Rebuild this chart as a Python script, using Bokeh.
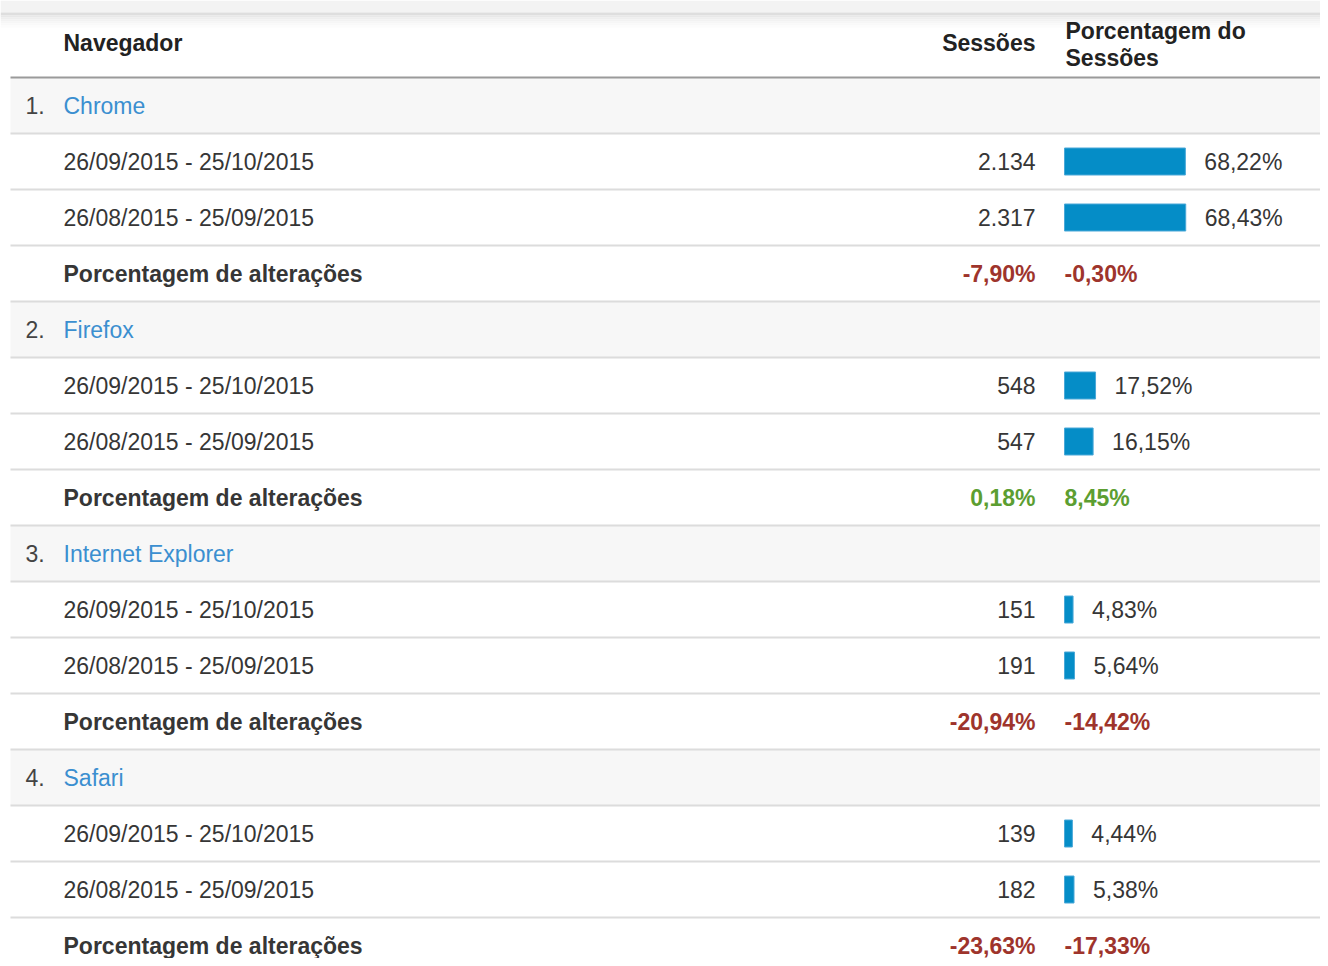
from bokeh.plotting import figure
from bokeh.models import Range1d, ColumnDataSource
from bokeh.core.properties import value
from bokeh.embed import file_html
from bokeh.resources import INLINE

# ---------------- data ----------------
browsers = ["Chrome", "Firefox", "Internet Explorer", "Safari"]
periods = ["26/09/2015 - 25/10/2015", "26/08/2015 - 25/09/2015"]
sessions_cur = [2134, 548, 151, 139]
sessions_prev = [2317, 547, 191, 182]
share_cur = [68.22, 17.52, 4.83, 4.44]
share_prev = [68.43, 16.15, 5.64, 5.38]
sessions_change = [-7.90, 0.18, -20.94, -23.63]
share_change = [-0.30, 8.45, -14.42, -17.33]
header_labels = ["Navegador", "Sessões", "Porcentagem do", "Sessões"]
change_label = "Porcentagem de alterações"

# ---------------- helpers ----------------
def fmt_int(n):
    return f"{n:,}".replace(",", ".")

def fmt_pct(v):
    return f"{v:.2f}".replace(".", ",") + "%"

FONT = value("Liberation Sans")
FS = "23px"
TXT = "#363636"
LINK = "#3b8fd0"
NEG = "#9e342c"
POS = "#5c9e31"
BAR = "#058dc7"

W, H = 1320, 958
ROW_PX = 56.0
ROW0 = 105.0  # pixel centre of first row

def ry(px):  # pixel -> row units
    return (px - ROW0) / ROW_PX

PX_PER_PCT = 121.0 / 68.3
BAR_X0 = 1064.0

p = figure(width=W, height=H,
           x_range=Range1d(0, W),
           y_range=Range1d(ry(H), ry(0)),
           output_backend="svg", toolbar_location=None,
           x_axis_location=None, y_axis_location=None,
           min_border=0)
p.outline_line_color = None
p.xgrid.visible = False
p.ygrid.visible = False
p.background_fill_color = "white"
p.border_fill_color = "white"
p.extra_x_ranges = {"pct": Range1d(-BAR_X0 / PX_PER_PCT, (W - BAR_X0) / PX_PER_PCT)}

# ---- top shadow band ----
p.quad(left=0, right=W, top=ry(0), bottom=ry(12), fill_color="#f3f3f3", line_color=None)
p.quad(left=0, right=W, top=ry(12), bottom=ry(15), fill_color="#dedede", line_color=None)
shades = ["#e8e8e8", "#eeeeee", "#f2f2f2", "#f6f6f6", "#f9f9f9", "#fcfcfc"]
for k, c in enumerate(shades):
    p.quad(left=0, right=W, top=ry(15 + 2 * k), bottom=ry(17 + 2 * k), fill_color=c, line_color=None)

# ---------------- build rows ----------------
n_rows = len(browsers) * 4
group_rows = [4 * g for g in range(len(browsers))]

# group header backgrounds
p.quad(left=10, right=W, top=[r - 0.5 for r in group_rows], bottom=[r + 0.5 for r in group_rows],
       fill_color="#f7f7f7", line_color=None)

# separators
p.segment(x0=10, x1=W, y0=[r + 0.5 for r in range(n_rows - 1)], y1=[r + 0.5 for r in range(n_rows - 1)],
          line_color="#dcdcdc", line_width=2)
p.segment(x0=10, x1=W, y0=[-0.5], y1=[-0.5], line_color="#9a9a9a", line_width=2)

# header
p.text(x=[63], y=[ry(42)], text=[header_labels[0]], text_font=FONT, text_font_size=FS,
       text_font_style="bold", text_color="#222222", text_baseline="middle", text_align="left")
p.text(x=[1035], y=[ry(42)], text=[header_labels[1]], text_font=FONT, text_font_size=FS,
       text_font_style="bold", text_color="#222222", text_baseline="middle", text_align="right")
p.text(x=[1065, 1065], y=[ry(30), ry(57)], text=header_labels[2:], text_font=FONT, text_font_size=FS,
       text_font_style="bold", text_color="#222222", text_baseline="middle", text_align="left")

# group names
p.text(x=25, y=group_rows, text=[f"{i + 1}." for i in range(len(browsers))], text_font=FONT,
       text_font_size=FS, text_color="#444444", text_baseline="middle", text_align="left")
p.text(x=63, y=group_rows, text=browsers, text_font=FONT, text_font_size=FS,
       text_color=LINK, text_baseline="middle", text_align="left")

# period rows
per_y, per_txt, ses_txt, share_v, share_t = [], [], [], [], []
for g in range(len(browsers)):
    for k, (s, sh) in enumerate([(sessions_cur[g], share_cur[g]), (sessions_prev[g], share_prev[g])]):
        per_y.append(4 * g + 1 + k)
        per_txt.append(periods[k])
        ses_txt.append(fmt_int(s))
        share_v.append(sh)
        share_t.append(fmt_pct(sh))

src = ColumnDataSource(dict(y=per_y, period=per_txt, ses=ses_txt, share=share_v, share_t=share_t))
p.text(x=63, y="y", text="period", source=src, text_font=FONT, text_font_size=FS,
       text_color=TXT, text_baseline="middle", text_align="left")
p.text(x=1035, y="y", text="ses", source=src, text_font=FONT, text_font_size=FS,
       text_color=TXT, text_baseline="middle", text_align="right")
p.hbar(y="y", left=0, right="share", height=27 / ROW_PX, source=src, x_range_name="pct",
       fill_color=BAR, line_color="#4aa8d8", line_width=1)
p.text(x="share", y="y", text="share_t", source=src, x_range_name="pct", x_offset=19,
       text_font=FONT, text_font_size=FS, text_color=TXT, text_baseline="middle", text_align="left")

# change rows
ch_y = [4 * g + 3 for g in range(len(browsers))]
p.text(x=63, y=ch_y, text=[change_label] * len(ch_y), text_font=FONT, text_font_size=FS,
       text_font_style="bold", text_color=TXT, text_baseline="middle", text_align="left")
p.text(x=1035, y=ch_y, text=[fmt_pct(v) for v in sessions_change], text_font=FONT, text_font_size=FS,
       text_font_style="bold", text_color=[POS if v >= 0 else NEG for v in sessions_change],
       text_baseline="middle", text_align="right")
p.text(x=0, y=ch_y, text=[fmt_pct(v) for v in share_change], x_range_name="pct", text_font=FONT,
       text_font_size=FS, text_font_style="bold",
       text_color=[POS if v >= 0 else NEG for v in share_change],
       text_baseline="middle", text_align="left")

open("out.html", "w").write(file_html(p, INLINE))
